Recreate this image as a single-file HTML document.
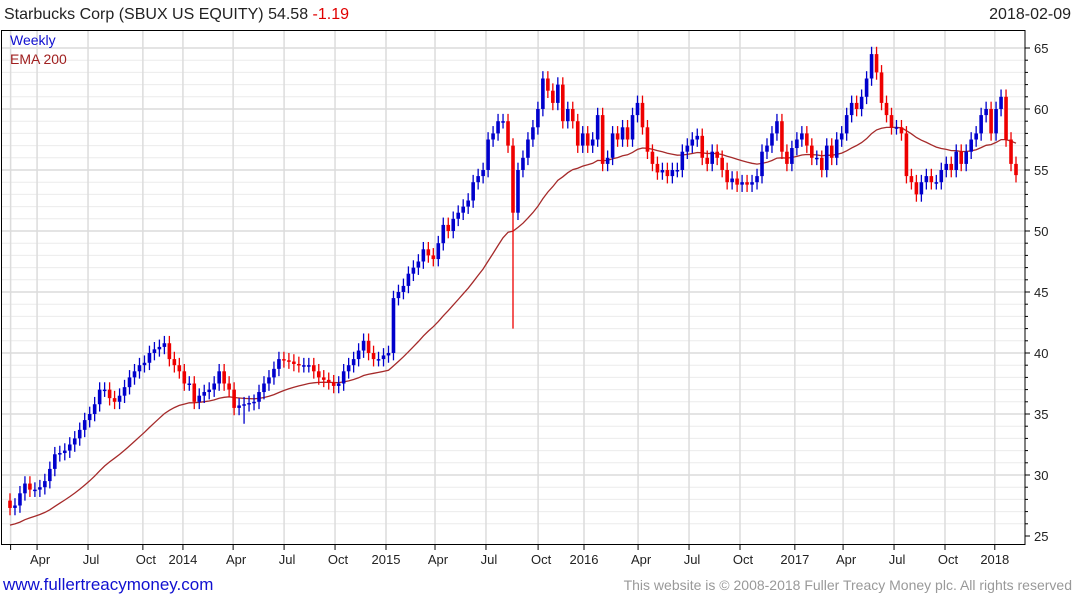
<!DOCTYPE html>
<html><head><meta charset="utf-8"><style>
body{margin:0;background:#fff;font-family:"Liberation Sans",sans-serif}
svg{display:block}
</style></head><body>
<svg id="c" width="1075" height="600" xmlns="http://www.w3.org/2000/svg" font-family="Liberation Sans, sans-serif">
<text x="4" y="19" font-size="16" fill="#222">Starbucks Corp (SBUX US EQUITY) 54.58 <tspan fill="#e00000">-1.19</tspan></text>
<text x="1071" y="19" font-size="16" fill="#222" text-anchor="end">2018-02-09</text>
<g id="grid"></g>
<g id="ema"></g>
<g id="candles"></g>
<rect x="1.5" y="30.5" width="1023.5" height="514" fill="none" stroke="#000" stroke-width="1"/>
<text x="10" y="45" font-size="14" fill="#1010d0">Weekly</text>
<text x="10" y="64" font-size="14" fill="#a02020">EMA 200</text>
<g id="axes"></g>
<text x="3" y="590" font-size="17" fill="#1010d0">www.fullertreacymoney.com</text>
<text x="1072" y="590" font-size="14" fill="#999" text-anchor="end">This website is © 2008-2018 Fuller Treacy Money plc. All rights reserved</text>
</svg>
<script>
const closes=[27.3,27.5,28.5,29.3,28.8,28.8,29.0,29.5,30.5,31.7,31.8,32.0,32.5,33.0,33.7,34.5,35.0,35.8,37.0,37.0,36.3,36.0,36.5,37.2,38.0,38.5,39.0,39.2,40.0,40.3,40.5,40.8,39.5,39.0,38.5,37.5,37.5,36.0,36.5,36.8,37.0,37.5,38.5,37.5,37.0,35.5,35.7,35.8,35.9,36.0,36.8,37.5,38.0,38.7,39.5,39.4,39.3,39.1,39.0,39.0,39.0,38.5,38.0,37.8,37.6,37.3,37.5,38.5,39.0,39.5,40.2,41.0,40.0,39.5,39.5,39.8,40.0,44.5,45.0,45.5,46.5,47.0,47.5,48.5,48.0,47.7,49.0,50.5,50.0,51.0,51.5,52.0,52.5,54.0,54.5,55.0,57.5,58.0,59.0,59.0,57.0,51.5,55.0,56.0,57.5,58.5,60.0,62.5,61.5,60.5,62.0,59.0,60.0,59.0,57.0,58.0,57.0,57.5,59.5,55.5,56.0,58.0,57.5,58.5,57.5,59.5,60.5,58.5,56.5,55.5,54.8,55.0,54.5,55.0,55.0,56.5,57.0,57.5,57.8,56.0,55.5,56.5,56.0,55.0,54.0,54.3,53.8,54.0,53.8,54.0,54.5,56.5,57.0,58.0,59.0,56.5,55.5,56.8,57.5,58.0,57.0,56.0,56.0,55.0,57.0,56.0,57.5,58.0,59.5,60.5,60.0,61.0,62.5,64.5,63.0,60.5,59.5,58.5,58.5,58.0,54.5,54.0,53.0,54.0,54.5,54.0,54.0,55.0,55.5,55.0,56.5,55.5,56.5,57.5,58.0,59.5,60.0,58.0,60.0,61.0,57.5,55.5,54.58];
const lowOverrides={101:42.0,47:34.2};
const yTicks=[25,30,35,40,45,50,55,60,65];
const xLabels=["","Apr","Jul","Oct","2014","Apr","Jul","Oct","2015","Apr","Jul","Oct","2016","Apr","Jul","Oct","2017","Apr","Jul","Oct","2018"];
const xLabelWeeks=[3.5,10.3,23.4,37.5,47.8,60.7,73.8,86.9,100,112.6,125.7,139.1,150.9,164.8,177.9,191,205.1,217.5,230.6,243.7,256.5];
const NS="http://www.w3.org/2000/svg";
const y=p=>48+(65-p)*12.2;
const xi=i=>10+i*(1006/(closes.length-1));
const xw=w=>-3+w*3.89;
function mk(t,a,parent){const e=document.createElementNS(NS,t);for(const k in a)e.setAttribute(k,a[k]);document.getElementById(parent).appendChild(e);return e;}
for(let p=26;p<=65;p++){
 const l=mk('line',{x1:2,x2:1025,y1:y(p),y2:y(p),stroke:p%5===0?'#c8c8c8':'#ececec','stroke-width':1},'grid');
 
 
}
xLabelWeeks.forEach((w,k)=>{
 const x=xw(w);
 const l=mk('line',{x1:x,x2:x,y1:30,y2:545,stroke:'#dcdcdc','stroke-width':1.5},'grid');
 
 
 const t=mk('line',{x1:x,x2:x,y1:545,y2:550,stroke:'#000'},'axes');
 
 
 const isYear=/^\d/.test(xLabels[k]);
 const tx=mk('text',{x:x+(isYear?0:3),y:564,'font-size':13,'text-anchor':'middle',fill:'#222'},'axes');
 tx.textContent=xLabels[k];
 
 
});
yTicks.forEach(v=>{
 const t=mk('line',{x1:1025,x2:1030,y1:y(v),y2:y(v),stroke:'#000'},'axes');
 
 
 const tx=mk('text',{x:1034,y:y(v)+5,'font-size':13,fill:'#222'},'axes');
 tx.textContent=v;
 
 
});
for(let p=26;p<65;p++){if(p%5){const t=mk('line',{x1:1025,x2:1028,y1:y(p),y2:y(p),stroke:'#000'},'axes');
 
 }}
let e=25.8,pts=[];
closes.forEach((c,i)=>{e=e+(c-e)*(2/33);pts.push(xi(i).toFixed(1)+','+y(e).toFixed(1));});
const em=mk('polyline',{points:pts.join(' '),fill:'none',stroke:'#a52a2a','stroke-width':1.3},'ema');


closes.forEach((c,i)=>{
 const o=i?closes[i-1]:27.9;
 const col=c>=o?'#0000cc':'#ee0000';
 const hi=Math.max(o,c)+0.6, lo=(lowOverrides[i]!==undefined)?lowOverrides[i]:Math.min(o,c)-0.6;
 const x=xi(i);
 const w=mk('line',{x1:x,x2:x,y1:y(hi),y2:y(lo),stroke:col,'stroke-width':1.3},'candles');
 
 
 const top=y(Math.max(o,c)),bh=Math.max(1.5,Math.abs(y(o)-y(c)));
 const b=mk('rect',{x:x-1.8,y:top,width:3.6,height:bh,fill:col},'candles');
 
 
});
</script>
</body></html>
